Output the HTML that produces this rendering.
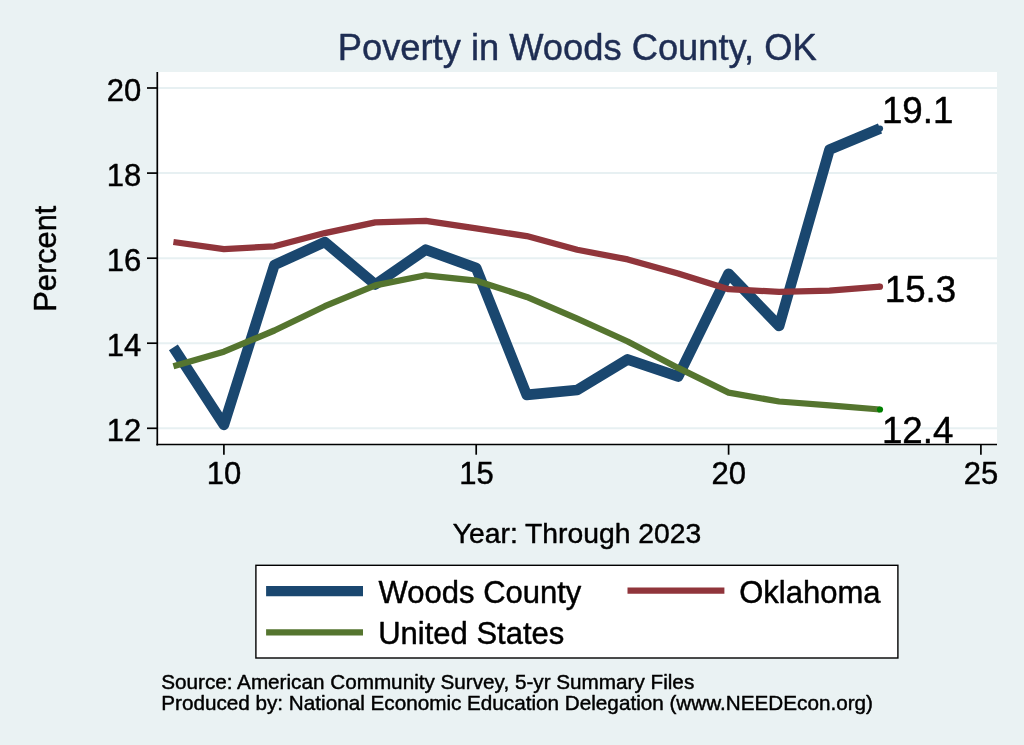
<!DOCTYPE html>
<html lang="en">
<head>
<meta charset="utf-8">
<title>Poverty in Woods County, OK</title>
<style>
html,body{margin:0;padding:0;background:#eaf2f3;}
body{width:1024px;height:745px;overflow:hidden;}
svg{display:block;will-change:transform;}
text{font-family:"Liberation Sans",Arial,Helvetica,sans-serif;fill:#000;stroke:#000;stroke-width:0.45px;stroke-linejoin:round;}
</style>
</head>
<body>
<svg width="1024" height="745" viewBox="0 0 1024 745">
<rect x="0" y="0" width="1024" height="745" fill="#eaf2f3"/>
<rect x="157" y="72" width="840" height="373" fill="#ffffff"/>
<g stroke="#e7f0f2" stroke-width="2" fill="none"><line x1="158" x2="997" y1="428.3" y2="428.3"/><line x1="158" x2="997" y1="343.2" y2="343.2"/><line x1="158" x2="997" y1="258.2" y2="258.2"/><line x1="158" x2="997" y1="173.1" y2="173.1"/><line x1="158" x2="997" y1="88.0" y2="88.0"/></g>
<g fill="none" stroke-linejoin="round" stroke-linecap="butt">
<polyline stroke="#1a476f" stroke-width="10.6" points="173.4,347.4 223.9,424.9 274.4,265.0 324.8,242.0 375.3,284.5 425.8,249.7 476.2,268.0 526.7,394.9 577.2,390.0 627.7,359.4 678.1,376.6 728.6,273.7 779.1,326.0 829.5,149.6 880.0,128.5"/>
<polyline stroke="#90353b" stroke-width="6.25" points="173.4,242.0 223.9,249.2 274.4,246.3 324.8,233.1 375.3,222.4 425.8,220.8 476.2,228.4 526.7,236.1 577.2,249.7 627.7,259.4 678.1,273.5 728.6,289.2 779.1,291.8 829.5,290.7 880.0,286.7"/>
<polyline stroke="#55752f" stroke-width="6.25" points="173.4,366.2 223.9,351.7 274.4,330.5 324.8,306.2 375.3,285.4 425.8,275.3 476.2,280.7 526.7,296.9 577.2,318.6 627.7,341.5 678.1,367.9 728.6,392.6 779.1,401.5 829.5,405.3 880.0,409.5"/>
</g>
<circle cx="880.0" cy="128.5" r="3.1" fill="#1a476f"/>
<circle cx="880.0" cy="286.7" r="3.1" fill="#90353b"/>
<circle cx="880.0" cy="409.5" r="3.1" fill="#008000"/>
<g stroke="#000" stroke-width="1.7" fill="none">
<line x1="157.3" x2="157.3" y1="72" y2="445.4"/>
<line x1="156.4" x2="997" y1="444.5" y2="444.5"/>
<line x1="147" x2="157.3" y1="428.3" y2="428.3"/><line x1="147" x2="157.3" y1="343.2" y2="343.2"/><line x1="147" x2="157.3" y1="258.2" y2="258.2"/><line x1="147" x2="157.3" y1="173.1" y2="173.1"/><line x1="147" x2="157.3" y1="88.0" y2="88.0"/><line x1="223.9" x2="223.9" y1="444.5" y2="454.7"/><line x1="476.2" x2="476.2" y1="444.5" y2="454.7"/><line x1="728.6" x2="728.6" y1="444.5" y2="454.7"/><line x1="980.9" x2="980.9" y1="444.5" y2="454.7"/>
</g>
<g font-size="31px"><text x="141.2" y="441.2" text-anchor="end">12</text><text x="141.2" y="356.1" text-anchor="end">14</text><text x="141.2" y="271.1" text-anchor="end">16</text><text x="141.2" y="186.0" text-anchor="end">18</text><text x="141.2" y="101.0" text-anchor="end">20</text><text x="224.0" y="484.4" text-anchor="middle">10</text><text x="476.4" y="484.4" text-anchor="middle">15</text><text x="728.7" y="484.4" text-anchor="middle">20</text><text x="981.0" y="484.4" text-anchor="middle">25</text></g>
<g font-size="36.7px">
<text x="881.9" y="123.1">19.1</text>
<text x="884.8" y="302.3">15.3</text>
<text x="881.9" y="442.8">12.4</text>
</g>
<text x="577.2" y="59.9" font-size="36.3px" text-anchor="middle" style="fill:#1e2d53;stroke:#1e2d53">Poverty in Woods County, OK</text>
<text x="577" y="543.4" font-size="28.3px" text-anchor="middle">Year: Through 2023</text>
<text transform="translate(56,258.7) rotate(-90)" font-size="30.8px" text-anchor="middle">Percent</text>
<rect x="255.9" y="565.3" width="642" height="92.7" fill="#ffffff" stroke="#000" stroke-width="1.4"/>
<line x1="266.1" x2="363" y1="591.1" y2="591.1" stroke="#1a476f" stroke-width="10.3"/>
<line x1="627.5" x2="724.4" y1="590.7" y2="590.7" stroke="#90353b" stroke-width="6.25"/>
<line x1="266.1" x2="363" y1="632.3" y2="632.3" stroke="#55752f" stroke-width="6.25"/>
<g font-size="31px">
<text x="378.6" y="603.4">Woods County</text>
<text x="739.2" y="603.2">Oklahoma</text>
<text x="378.2" y="644.2">United States</text>
</g>
<g font-size="20.7px">
<text x="161.2" y="689.2">Source: American Community Survey, 5-yr Summary Files</text>
<text x="161.2" y="710">Produced by: National Economic Education Delegation (www.NEEDEcon.org)</text>
</g>
</svg>
</body>
</html>
